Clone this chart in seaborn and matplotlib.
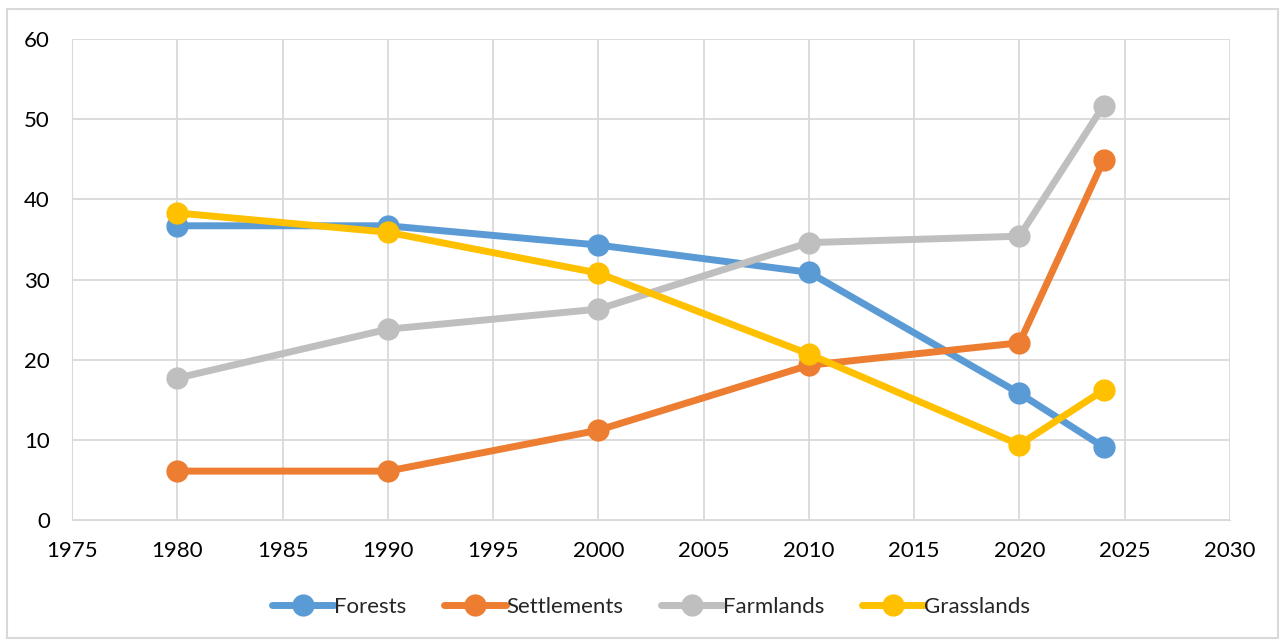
import pandas as pd
import numpy as np
import matplotlib.pyplot as plt
import seaborn as sns
from matplotlib.patches import Rectangle

# Data
years = [1980, 1990, 2000, 2010, 2020, 2024]
forests = [36.7, 36.7, 34.3, 30.9, 15.8, 9.1]
settlements = [6.1, 6.1, 11.2, 19.3, 22.1, 44.9]
farmlands = [17.7, 23.8, 26.3, 34.6, 35.4, 51.7]
grasslands = [38.3, 35.9, 30.8, 20.7, 9.4, 16.2]

series_names = ["Forests", "Settlements", "Farmlands", "Grasslands"]
colors = ["#5B9BD5", "#ED7D31", "#BFBFBF", "#FFC000"]

df = pd.DataFrame({
    "Year": years * 4,
    "Value": forests + settlements + farmlands + grasslands,
    "Series": np.repeat(series_names, len(years)),
})

sns.set_style("white")
plt.rcParams["font.family"] = ["Lato", "DejaVu Sans"]

fig = plt.figure(figsize=(12.85, 6.44), dpi=100)
ax = fig.add_axes([72 / 1285, 1 - 520 / 644, (1230 - 72) / 1285, (520 - 39) / 644])

sns.lineplot(data=df, x="Year", y="Value", hue="Series", palette=colors,
             marker="o", markersize=16, markeredgewidth=0, linewidth=5,
             ax=ax, legend=True)

ax.set_xlim(1975, 2030)
ax.set_ylim(0, 60)
ax.set_xticks(range(1975, 2031, 5))
ax.set_yticks(range(0, 61, 10))
ax.grid(True, color="#D9D9D9", linewidth=1.3)
ax.set_axisbelow(True)
for side in ["top", "right"]:
    ax.spines[side].set_visible(False)
ax.spines["left"].set_color("#D9D9D9")
ax.spines["bottom"].set_color("#D9D9D9")
ax.tick_params(axis="both", labelsize=16, length=0, colors="black")
ax.tick_params(axis="x", pad=15)
ax.tick_params(axis="y", pad=16)
ax.set_xlabel("")
ax.set_ylabel("")

handles, labels = ax.get_legend_handles_labels()
ax.legend(handles, labels, loc="center", bbox_to_anchor=(0.5, -0.18), ncol=4,
          frameon=False, fontsize=16, handlelength=2.8, handletextpad=0.0,
          columnspacing=1.7)

# outer chart border
fig.patches.append(Rectangle((7 / 1285, 0.01), 1 - 14 / 1285, 1 - 9 / 644 - 0.01,
                             transform=fig.transFigure, fill=False,
                             edgecolor="#D9D9D9", linewidth=1.5))

fig.savefig("out.png", dpi=100)
